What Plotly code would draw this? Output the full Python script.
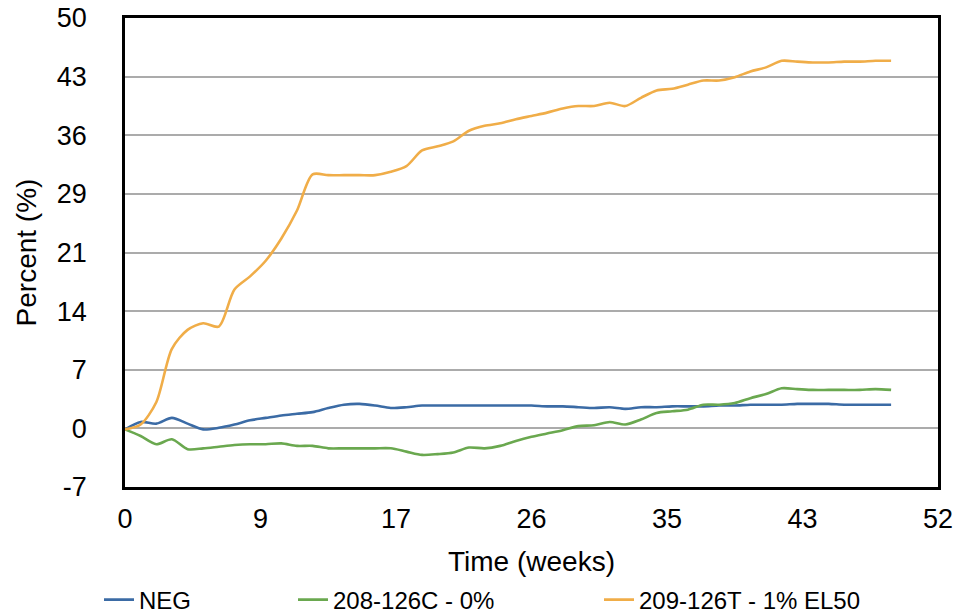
import plotly.graph_objects as go

weeks = list(range(0, 50))

neg = [0, 0.9, 0.7, 1.4, 0.7, 0.0, 0.2, 0.6, 1.1, 1.4,
       1.7, 1.9, 2.1, 2.6, 3.0, 3.1, 2.9, 2.6, 2.7, 2.9,
       2.9, 2.9, 2.9, 2.9, 2.9, 2.9, 2.9, 2.8, 2.8, 2.7,
       2.6, 2.7, 2.5, 2.7, 2.7, 2.8, 2.8, 2.8, 2.9, 2.9,
       3.0, 3.0, 3.0, 3.1, 3.1, 3.1, 3.0, 3.0, 3.0, 3.0]

c208 = [0, -0.8, -1.8, -1.2, -2.4, -2.3, -2.1, -1.9, -1.8, -1.8,
        -1.7, -2.0, -2.0, -2.3, -2.3, -2.3, -2.3, -2.3, -2.7, -3.1,
        -3.0, -2.8, -2.2, -2.3, -2.0, -1.4, -0.9, -0.5, -0.1, 0.4,
        0.5, 0.9, 0.6, 1.2, 2.0, 2.2, 2.4, 3.0, 3.0, 3.2,
        3.8, 4.3, 5.0, 4.9, 4.8, 4.8, 4.8, 4.8, 4.9, 4.8]

t209 = [0, 0.6, 3.3, 9.8, 12.1, 12.9, 12.5, 17.0, 18.6, 20.5,
        23.2, 26.6, 31.0, 30.9, 30.9, 30.9, 30.9, 31.3, 32.0, 33.9,
        34.4, 35.0, 36.3, 36.9, 37.2, 37.7, 38.1, 38.5, 39.0, 39.3,
        39.3, 39.7, 39.3, 40.3, 41.2, 41.4, 41.9, 42.4, 42.4, 42.8,
        43.5, 44.0, 44.8, 44.7, 44.6, 44.6, 44.7, 44.7, 44.8, 44.8]

series_names = ["NEG", "208-126C - 0%", "209-126T - 1% EL50"]

x_min, x_max = 0, 52
y_min, y_max = -7, 50
x_tick_labels = ["0", "9", "17", "26", "35", "43", "52"]
y_tick_labels = ["-7", "0", "7", "14", "21", "29", "36", "43", "50"]

x_tickvals = [x_min + i * (x_max - x_min) / (len(x_tick_labels) - 1) for i in range(len(x_tick_labels))]
y_tickvals = [y_min + i * (y_max - y_min) / (len(y_tick_labels) - 1) for i in range(len(y_tick_labels))]

colors = ["#3B6BA5", "#6AA84F", "#F0AD48"]
FONT = "Liberation Sans, Arial, Helvetica, sans-serif"

fig = go.Figure()
legend_ids = ["legend", "legend2", "legend3"]
for name, ys, col, lg in zip(series_names, [neg, c208, t209], colors, legend_ids):
    fig.add_trace(go.Scatter(
        x=weeks, y=ys, mode="lines", name=name,
        line=dict(color=col, width=2.6, shape="spline", smoothing=0.8),
        legend=lg,
    ))

W, H = 965, 616
leg_common = dict(orientation="h", xref="container", yref="container",
                  xanchor="left", yanchor="middle", y=1 - 600 / H,
                  font=dict(family=FONT, size=24, color="#000000"),
                  bgcolor="rgba(0,0,0,0)", borderwidth=0)

fig.update_layout(
    width=W, height=H,
    paper_bgcolor="white", plot_bgcolor="white",
    margin=dict(l=125, r=27, t=18, b=129, autoexpand=False),
    font=dict(family=FONT, size=27, color="#000000"),
    showlegend=True,
    legend=dict(x=99 / W, **leg_common),
    legend2=dict(x=293 / W, **leg_common),
    legend3=dict(x=599 / W, **leg_common),
)

fig.update_xaxes(
    range=[x_min, x_max], tickvals=x_tickvals, ticktext=x_tick_labels,
    showgrid=False, zeroline=False,
    showline=True, mirror=True, linecolor="#000000", linewidth=2.5,
    ticks="", ticklabelstandoff=6,
    tickfont=dict(family=FONT, size=27, color="#000000"),
    title=dict(text="Time (weeks)", font=dict(family=FONT, size=28, color="#000000"), standoff=31),
)
fig.update_yaxes(
    range=[y_min, y_max], tickvals=y_tickvals, ticktext=y_tick_labels,
    showgrid=True, gridcolor="#ABABAB", gridwidth=2,
    zeroline=False,
    showline=True, mirror=True, linecolor="#000000", linewidth=2.5,
    ticks="", ticklabelstandoff=30,
    tickfont=dict(family=FONT, size=27, color="#000000"),
    title=dict(text="Percent (%)", font=dict(family=FONT, size=28, color="#000000"), standoff=13),
)

fig.write_html("out.html", config={"displayModeBar": False},
               post_script="document.body.style.margin='0';document.body.style.overflow='hidden';")
